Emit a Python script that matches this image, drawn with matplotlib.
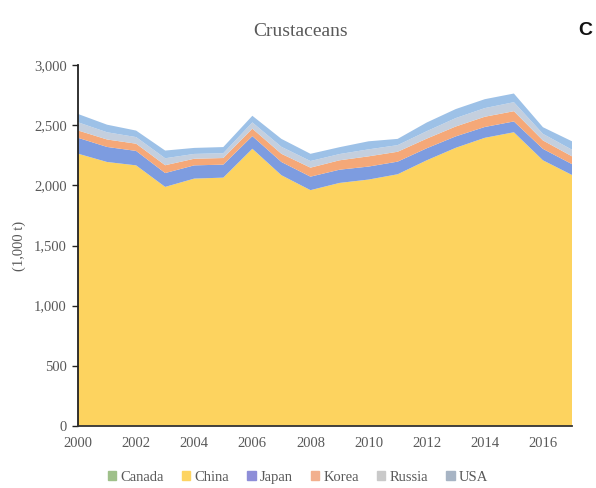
import matplotlib
matplotlib.use("Agg")
import matplotlib.pyplot as plt
from matplotlib.ticker import FuncFormatter

years = list(range(2000, 2018))
canada = [1, 1, 1, 1, 1, 1, 1, 1, 1, 1, 1, 1, 1, 1, 1, 1, 1, 1]
china = [2262, 2193, 2165, 1986, 2055, 2063, 2303, 2083, 1959, 2019, 2047, 2091, 2207, 2311, 2394, 2440, 2207, 2085]
japan = [132, 125, 120, 115, 110, 108, 105, 110, 112, 110, 108, 105, 100, 95, 90, 90, 95, 90]
korea = [61, 62, 60, 65, 55, 55, 62, 68, 75, 78, 85, 82, 80, 82, 85, 85, 70, 65]
russia = [68, 60, 55, 58, 40, 40, 52, 58, 55, 52, 58, 55, 62, 70, 72, 75, 55, 55]
usa = [69, 63, 54, 64, 50, 51, 55, 66, 60, 57, 67, 52, 72, 75, 74, 72, 55, 70]

series = [canada, china, japan, korea, russia, usa]
names = ["Canada", "China", "Japan", "Korea", "Russia", "USA"]
colors = ["#8DBB6E", "#FDD35F", "#7D9CE0", "#F5A878", "#C4CFDE", "#9DC1E7"]
legend_colors = ["#9FC08A", "#FDD462", "#8E8ED8", "#F2B08E", "#C9C9C9", "#A7B4C4"]

serif = ["Liberation Serif", "DejaVu Serif"]
gray = "#595959"

fig = plt.figure(figsize=(5.96, 4.88), dpi=100)
ax = fig.add_axes([78 / 596, 62 / 488, 494 / 596, 361 / 488])

ax.stackplot(years, *series, colors=colors, linewidth=0)

ax.set_xlim(2000, 2017)
ax.set_ylim(0, 3000)
ax.set_xticks(range(2000, 2017, 2))
ax.set_yticks(range(0, 3001, 500))
ax.yaxis.set_major_formatter(FuncFormatter(lambda v, p: f"{int(v):,}"))

for s in ("top", "right"):
    ax.spines[s].set_visible(False)
ax.spines["left"].set_color("#222222")
ax.spines["bottom"].set_color("#333333")
ax.spines["left"].set_linewidth(1.3)
ax.spines["bottom"].set_linewidth(1.3)
ax.tick_params(axis="y", length=4, width=1, color="#222222", pad=4)
ax.tick_params(axis="x", length=0, pad=8)
for lbl in ax.get_xticklabels() + ax.get_yticklabels():
    lbl.set_fontfamily(serif)
    lbl.set_fontsize(10.5)
    lbl.set_color(gray)

ax.set_ylabel("(1,000 t)", fontfamily=serif, fontsize=10.5, color=gray, labelpad=6)
fig.text(0.505, 0.935, "Crustaceans", ha="center", va="center",
         fontfamily=serif, fontsize=14, color=gray)
fig.text(0.982, 0.937, "C", ha="center", va="center",
         fontfamily=["Liberation Sans", "DejaVu Sans"], fontsize=14,
         fontweight="bold", color="#111111")

handles = [plt.Rectangle((0, 0), 1, 1, color=c) for c in legend_colors]
fig.legend(handles, names, loc="center", bbox_to_anchor=(0.5, 0.022),
           ncol=6, frameon=False, handlelength=0.6, handleheight=0.6,
           handletextpad=0.3, columnspacing=1.2,
           prop={"family": serif, "size": 10.5}, labelcolor=gray)

fig.savefig("out.png", dpi=100)
